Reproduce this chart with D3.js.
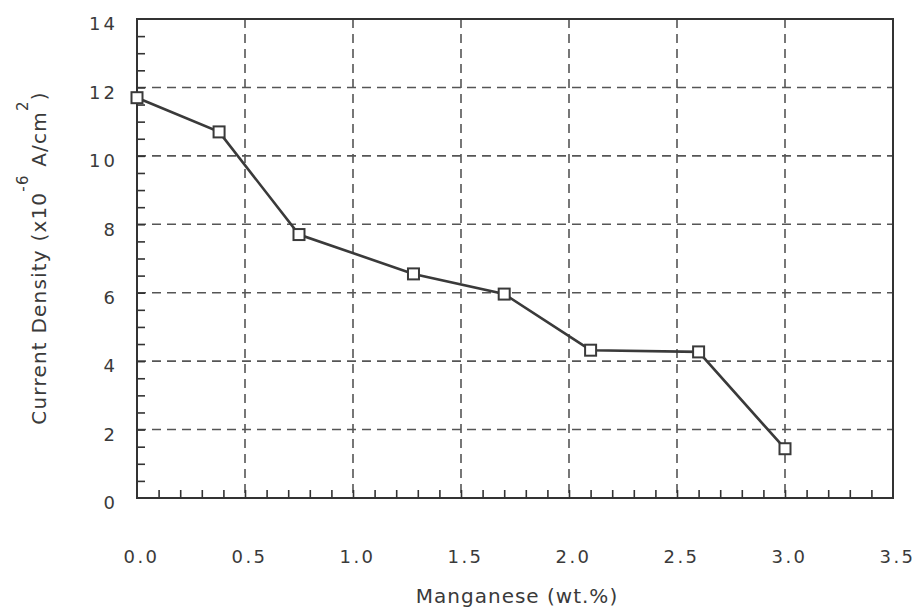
<!DOCTYPE html>
<html>
<head>
<meta charset="utf-8">
<script src="https://cdn.jsdelivr.net/npm/d3@7"></script>
<style>
  body { margin: 0; background: #fff; }
  text { font-family: "DejaVu Sans", sans-serif; fill: #3a3a3a; }
</style>
</head>
<body>
<svg id="chart" width="915" height="612"></svg>
<script>
const manganese = [0.0, 0.38, 0.75, 1.28, 1.7, 2.1, 2.6, 3.0];
const currentDensity = [11.7, 10.7, 7.7, 6.55, 5.96, 4.32, 4.27, 1.44];
const xTicks = [0, 0.5, 1.0, 1.5, 2.0, 2.5, 3.0, 3.5];
const yTicks = [0, 2, 4, 6, 8, 10, 12, 14];

const margin = { top: 19, right: 22, bottom: 114, left: 137 },
    width = 915 - margin.left - margin.right,
    height = 612 - margin.top - margin.bottom;

const svg = d3.select("#chart")
    .append("g")
    .attr("transform", `translate(${margin.left},${margin.top})`);

const x = d3.scaleLinear().domain([0, 3.5]).range([0, width]);
const y = d3.scaleLinear().domain([0, 14]).range([height, 0]);

const data = manganese.map((m, i) => [m, currentDensity[i]]);

// dashed grid
svg.append("g")
    .selectAll("line")
    .data(xTicks.slice(1, -1))
    .enter()
    .append("line")
    .attr("x1", d => x(d)).attr("x2", d => x(d))
    .attr("y1", 0).attr("y2", height)
    .attr("stroke", "#555")
    .attr("stroke-width", 1.6)
    .attr("stroke-dasharray", "9,6");

svg.append("g")
    .selectAll("line")
    .data(yTicks.slice(1, -1))
    .enter()
    .append("line")
    .attr("y1", d => y(d)).attr("y2", d => y(d))
    .attr("x1", 0).attr("x2", width)
    .attr("stroke", "#555")
    .attr("stroke-width", 1.6)
    .attr("stroke-dasharray", "9,6");

// minor inward ticks
svg.append("g")
    .attr("transform", `translate(0,${height})`)
    .call(d3.axisTop(x).tickValues(d3.range(1, 35).map(i => i / 10)).tickSize(8).tickFormat(""))
    .call(g => g.select(".domain").remove())
    .call(g => g.selectAll("line").attr("stroke", "#333").attr("stroke-width", 1.6));

svg.append("g")
    .call(d3.axisRight(y).tickValues(d3.range(1, 28).map(i => i / 2)).tickSize(8).tickFormat(""))
    .call(g => g.select(".domain").remove())
    .call(g => g.selectAll("line").attr("stroke", "#333").attr("stroke-width", 1.6));

// tick labels
svg.append("g")
    .attr("transform", `translate(4,${height})`)
    .call(d3.axisBottom(x).tickValues(xTicks).tickSize(0).tickPadding(52).tickFormat(d3.format(".1f")))
    .call(g => g.select(".domain").remove())
    .call(g => g.selectAll("text")
        .attr("font-size", 18)
        .attr("letter-spacing", 2.5)
        .attr("fill", "#3a3a3a")
        .style("font-family", "DejaVu Sans"));

svg.append("g")
    .attr("transform", "translate(0,5)")
    .call(d3.axisLeft(y).tickValues(yTicks).tickSize(0).tickPadding(19).tickFormat(d3.format("d")))
    .call(g => g.select(".domain").remove())
    .call(g => g.selectAll("text")
        .attr("font-size", 18)
        .attr("letter-spacing", 3)
        .attr("fill", "#3a3a3a")
        .style("font-family", "DejaVu Sans"));

// frame
svg.append("rect")
    .attr("width", width)
    .attr("height", height)
    .attr("fill", "none")
    .attr("stroke", "#333")
    .attr("stroke-width", 2);

// line + markers
const line = d3.line()
    .x(d => x(d[0]))
    .y(d => y(d[1]));

svg.append("path")
    .datum(data)
    .attr("fill", "none")
    .attr("stroke", "#3a3a3a")
    .attr("stroke-width", 2.6)
    .attr("d", line);

svg.selectAll(".pt")
    .data(data)
    .enter()
    .append("rect")
    .attr("class", "pt")
    .attr("x", d => x(d[0]) - 5.5)
    .attr("y", d => y(d[1]) - 5.5)
    .attr("width", 11)
    .attr("height", 11)
    .attr("fill", "#fff")
    .attr("stroke", "#3a3a3a")
    .attr("stroke-width", 2);

// axis titles
svg.append("text")
    .attr("x", width / 2 + 2)
    .attr("y", height + 105)
    .attr("text-anchor", "middle")
    .attr("font-size", 20)
    .attr("letter-spacing", 1)
    .text("Manganese (wt.%)");

const yTitle = svg.append("text")
    .attr("transform", `translate(${-91},${239}) rotate(-90)`)
    .attr("text-anchor", "middle")
    .attr("font-size", 20)
    .attr("letter-spacing", 1.2);
yTitle.append("tspan").text("Current Density (x10");
yTitle.append("tspan").attr("dy", -18).attr("font-size", 15).text("-6");
yTitle.append("tspan").attr("dy", 18).text("  A/cm");
yTitle.append("tspan").attr("dy", -18).attr("font-size", 15).text("2");
yTitle.append("tspan").attr("dy", 18).text(")");
</script>
</body>
</html>
